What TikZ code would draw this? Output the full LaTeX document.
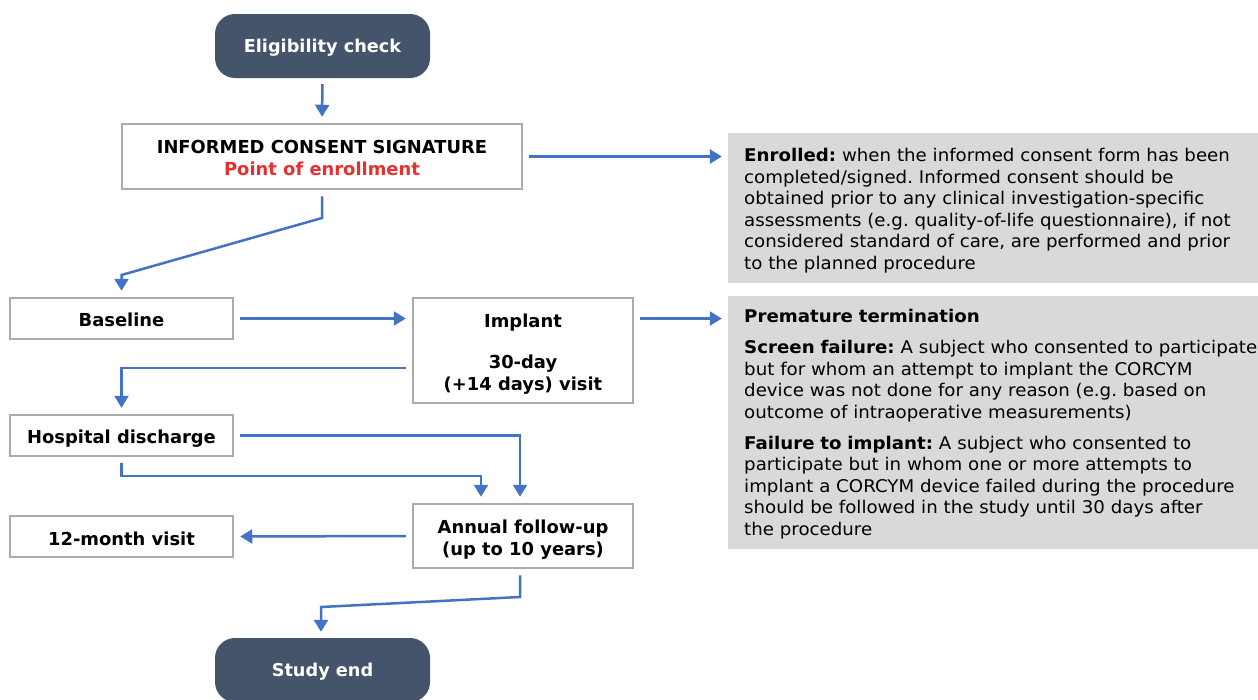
\documentclass[tikz,border=0pt]{standalone}
\usepackage{fontspec}
\setmainfont{DejaVu Sans}
\newfontfamily\bodyfont[FakeStretch=1.04]{DejaVu Sans}
\usetikzlibrary{arrows.meta}
\definecolor{arrowblue}{RGB}{68,114,196}
\definecolor{boxgray}{RGB}{166,172,175}
\definecolor{darkslate}{RGB}{68,84,106}
\definecolor{notegray}{RGB}{217,217,217}
\definecolor{redtxt}{RGB}{232,48,48}
\newcommand{\mystrut}[1]{\rule{0pt}{#1}}
\frenchspacing
\begin{document}
\begin{tikzpicture}[x=1pt,y=-1pt,
  terminal/.style={fill=darkslate, rounded corners=20pt, minimum width=215pt, minimum height=64pt, text=white, font=\fontsize{17.7}{21}\selectfont\bfseries, inner sep=0pt},
  stepbox/.style={draw=boxgray, line width=2.5pt, fill=white, font=\fontsize{17.9}{22}\selectfont\bfseries, align=center, inner sep=0pt},
  note/.style={fill=notegray, inner sep=0pt},
  notetext/.style={font=\bodyfont\fontsize{17.5}{21.6}\selectfont, align=left, text width=530pt, inner sep=0pt, anchor=north west},
  link/.style={draw=arrowblue, line width=2.5pt, shorten <=6pt, shorten >=6pt, -{Triangle[length=12pt,width=14pt]}},
]
\useasboundingbox[fill=white] (0,0) rectangle (1258,699);

% notes
\node[note, minimum width=534pt, minimum height=150pt] (enr) at (995,208) {};
\node[note, minimum width=534pt, minimum height=253pt] (prem) at (995,422.5) {};
\node[notetext] (enrtext) at (744,148) {\textbf{Enrolled:} when the informed consent form has been\\
completed/signed. Informed consent should be\\
obtained prior to any clinical investigation-specific\\
assessments (e.g. quality-of-life questionnaire), if not\\
considered standard of care, are performed and prior\\
to the planned procedure};
\node[notetext] (premtext) at (744,308.6) {\textbf{Premature termination}\\[9.8pt]
\textbf{Screen failure:} A subject who consented to participate\\
but for whom an attempt to implant the CORCYM\\
device was not done for any reason (e.g. based on\\
outcome of intraoperative measurements)\\[9.2pt]
\textbf{Failure to implant:} A subject who consented to\\
participate but in whom one or more attempts to\\
implant a CORCYM device failed during the procedure\\
should be followed in the study until 30 days after\\
the procedure};

% flow boxes
\node[terminal] (elig) at (322.5,46) {\mystrut{17.5pt}Eligibility check};
\node[stepbox, minimum width=400pt, minimum height=65pt] (consent) at (322,156.5) {\mystrut{16pt}INFORMED CONSENT SIGNATURE\\{\color{redtxt}Point of enrollment}};
\node[stepbox, minimum width=223pt, minimum height=41pt] (base) at (121.5,318.5) {\mystrut{17pt}Baseline};
\node[stepbox, minimum width=220pt, minimum height=105pt] (implant) at (523,350.5) {\mystrut{20.5pt}Implant\\[19pt]30-day\\(+14 days) visit};
\node[stepbox, minimum width=223pt, minimum height=41pt] (hosp) at (121.5,435.5) {\mystrut{19.5pt}Hospital discharge};
\node[stepbox, minimum width=220pt, minimum height=64pt] (annual) at (523,536) {\mystrut{21pt}Annual follow-up\\(up to 10 years)};
\node[stepbox, minimum width=223pt, minimum height=41pt] (month) at (121.5,536.5) {\mystrut{18pt}12-month visit};
\node[terminal] (study) at (322.5,670) {\mystrut{17.5pt}Study end};

% connector bends
\coordinate (c1) at (322,218);
\coordinate (c2) at (121.5,275);
\coordinate (h2) at (121.5,476);
\coordinate (a1) at (520,597);
\coordinate (a2) at (321,607);

% connectors
\draw[link] (elig.south) -- (consent.north);
\draw[link] (consent.east) -- (consent.east -| enr.west);
\draw[link] (consent.south) -- (c1) -- (c2) -- (base.north);
\draw[link] (base.east) -- (base.east -| implant.west);
\draw[link] (implant.east |- base.east) -- (prem.west |- base.east);
\draw[link] ([yshift=-17.5pt]implant.west) -| (hosp.north);
\draw[link] (hosp.east) -| ([xshift=-3pt]annual.north);
\draw[link] (hosp.south) -- (h2) -| ([xshift=-42pt]annual.north);
\draw[link] (annual.west) -- (month.east);
\draw[link] ([xshift=-3pt]annual.south) -- (a1) -- (a2) -- ([xshift=-1.5pt]study.north);
\end{tikzpicture}
\end{document}
